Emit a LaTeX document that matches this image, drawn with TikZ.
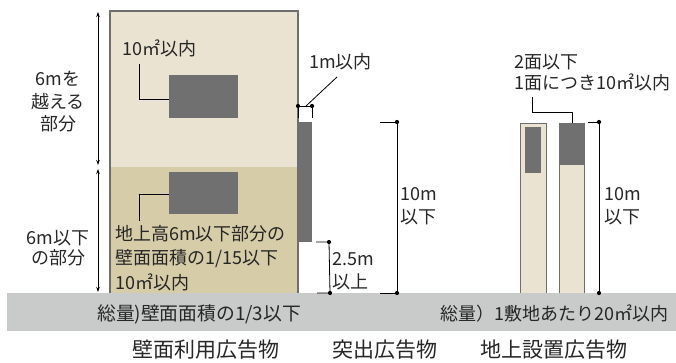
\documentclass[tikz,border=0pt]{standalone}
\usepackage{fontspec}
\setmainfont{Noto Sans CJK JP}
\usetikzlibrary{arrows.meta}
\definecolor{wallup}{HTML}{EAE3D1}
\definecolor{walllow}{HTML}{D6CCA8}
\definecolor{signc}{HTML}{707070}
\definecolor{edgec}{HTML}{6E6E6E}
\definecolor{groundc}{HTML}{C9CACA}
\tikzset{
  lbl/.style={font=\fontsize{18}{23}\selectfont, inner sep=0pt, text=black!85},
  captxt/.style={font=\fontsize{21}{23}\selectfont, inner sep=0pt, text=black!85},
  dimline/.style={line width=0.8pt, black},
  dimarrow/.style={line width=0.8pt, black, {Stealth[length=5pt,width=3.5pt]}-{Stealth[length=5pt,width=3.5pt]}},
  dot/.style={circle, fill=black, inner sep=0pt, minimum size=4.2pt},
}
\begin{document}
\begin{tikzpicture}[x=1pt,y=-1pt]
\useasboundingbox (0,0) rectangle (676,363);
% ground
\fill[groundc] (7,293) rectangle (676,331);
% building
\fill[wallup] (110,11) rectangle (298,167);
\fill[walllow] (110,167) rectangle (298,293);
\draw[edgec, line width=1.2pt] (110,293) -- (110,11) -- (298,11) -- (298,293);
% wall signs
\fill[signc] (169,75) rectangle (238,118);
\fill[signc] (169,172) rectangle (238,214);
% leaders
\draw[dimline] (139,64) -- (139,99) -- (169,99);
\draw[dimline] (139,221) -- (139,194) -- (169,194);
\node[lbl, anchor=west] (t1) at (122,48) {10㎡以内};
\node[lbl, anchor=west, align=left, font=\fontsize{18}{24.5}\selectfont] (t2) at (115,258) {地上高6m以下部分の\\壁面面積の1/15以下\\10㎡以内};
% left dimensions
\draw[dimarrow] (98,12) -- (98,165);
\draw[dimarrow] (98,169) -- (98,292);
\node[lbl, align=center, font=\fontsize{18}{22.5}\selectfont] (t3) at (58,102) {6mを\\越える\\部分};
\node[lbl, align=center, font=\fontsize{18}{19.5}\selectfont] (t4) at (58,248) {6m以下\\の部分};
% projecting sign
\fill[signc] (298,122) rectangle (312,242);
\node[dot] (d1) at (298,106) {};
\node[dot] (d2) at (312,106) {};
\draw[dimline] (d1.center) -- (d2.center);
\draw[dimline] (d1.center) -- (298,118);
\draw[dimline] (d2.center) -- (312,118);
\draw[dimline] (306,106) -- (337,77);
\node[lbl, anchor=west] (t5) at (309,62) {1m以内};
% 2.5m
\node[dot] (d3) at (329,242) {};
\node[dot] (d4) at (330,293) {};
\draw[dimline] (316,242) -- (d3.center) -- (d4.center) -- (317,293);
\node[lbl, anchor=west, align=left] (t6) at (332,271.5) {2.5m\\以上};
% 10m
\node[dot] (d5) at (397,122) {};
\node[dot] (d6) at (397,293) {};
\draw[dimline] (380,122) -- (d5.center) -- (d6.center) -- (380,293);
\node[lbl, anchor=west, align=left] (t7) at (400,206.5) {10m\\以下};
% pillars
\filldraw[fill=wallup, draw=edgec, line width=0.9pt] (520,293) -- (520,123) -- (546,123) -- (546,293);
\fill[signc] (525,127) rectangle (541,173);
\filldraw[fill=wallup, draw=edgec, line width=0.9pt] (559,293) -- (559,123) -- (584,123) -- (584,293);
\fill[signc] (559,123) rectangle (584,165);
\draw[dimline] (532,97) -- (532,112) -- (572,112) -- (572,123);
\node[lbl, anchor=west, align=left, font=\fontsize{18}{21.5}\selectfont] (t8) at (514,72.5) {2面以下\\1面につき10㎡以内};
\node[dot] (d7) at (599,122) {};
\node[dot] (d8) at (599,293) {};
\draw[dimline] (588,122) -- (d7.center) -- (d8.center);
\node[lbl, anchor=west, align=left] (t9) at (604,206.5) {10m\\以下};
% ground texts
\node[lbl, anchor=west, font=\fontsize{18.8}{23}\selectfont] (g1) at (97,314) {総量)壁面面積の1/3以下};
\node[lbl, anchor=east] (g2) at (669,314) {総量）1敷地あたり20㎡以内};
% captions
\node[captxt] (c1) at (206,350) {壁面利用広告物};
\node[captxt] (c2) at (385,350) {突出広告物};
\node[captxt] (c3) at (554,350) {地上設置広告物};
\end{tikzpicture}
\end{document}
